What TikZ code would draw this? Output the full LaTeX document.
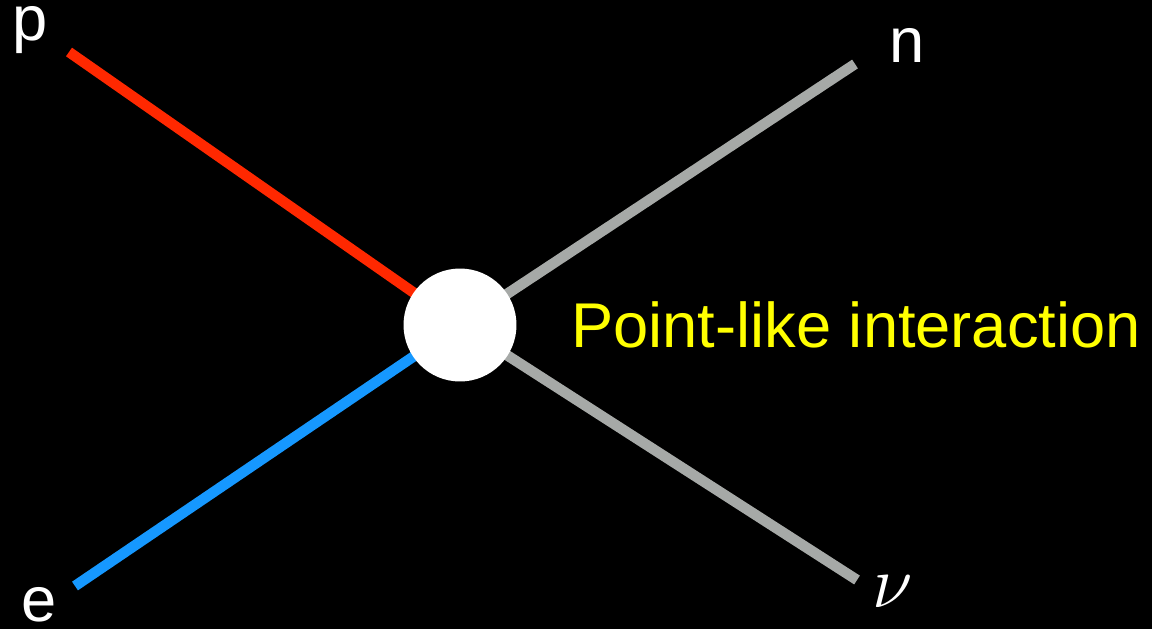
\documentclass[tikz,border=0pt]{standalone}
\usepackage{fix-cm}
\usepackage{fontspec}
\setmainfont{Liberation Sans}
\definecolor{protonred}{RGB}{255,40,0}
\definecolor{electronblue}{RGB}{22,152,255}
\definecolor{neutralgray}{RGB}{166,169,167}
\definecolor{labelyellow}{RGB}{255,255,0}
\usetikzlibrary{positioning}

\begin{document}
\begin{tikzpicture}[
    x=0.02cm, y=-0.02cm,
    leg/.style={line width=0.21cm},
    particle/.style={text=white, inner sep=0pt, anchor=base,
      font=\fontsize{36}{40}\selectfont},
    vertex/.style={circle, fill=white, inner sep=0pt, minimum size=2.26cm},
  ]
    \fill[black] (0,0) rectangle (1152,629);

    % vertex and outer ends
    \coordinate (v) at (460,325);
    \coordinate (pEnd) at (69,52);
    \coordinate (nEnd) at (855,64);
    \coordinate (eEnd) at (75,586);
    \coordinate (nuEnd) at (857,580);

    \draw[leg, protonred] (pEnd) -- (v);
    \draw[leg, neutralgray] (nEnd) -- (v);
    \draw[leg, electronblue] (eEnd) -- (v);
    \draw[leg, neutralgray] (nuEnd) -- (v);

    \node[vertex] (vtx) at (v) {};

    % labels
    \node[particle] (pLbl) at (30,40) {p};
    \node[particle] (nLbl) at (907,62) {n};
    \node[particle] (eLbl) at (39,621) {e};
    \node[particle, font=\fontsize{42}{46}\selectfont] (nuLbl) at (893,607) {$\nu$};
    \node[particle, text=labelyellow, anchor=base west] (point) at (571,347) {Point-like interaction};
  \end{tikzpicture}
\end{document}
